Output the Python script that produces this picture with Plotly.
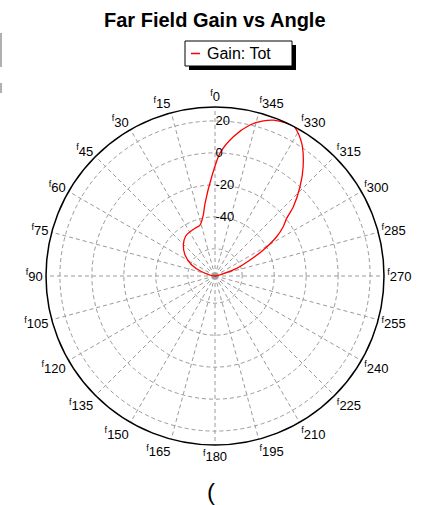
import plotly.graph_objects as go

# ---- data -------------------------------------------------------------
title_text = "Far Field Gain vs Angle"
series_name = "Gain: Tot"

# far-field total gain (dB) against angle (deg)
angles_deg = [1.9, 7.8, 10.9, 16.4, 24.5, 36.2, 45.6, 55.0, 64.7, 72.1,
              180.0,
              285.5, 289.5, 294.6, 298.3, 302.5, 305.8, 308.8, 311.5, 316.4,
              321.1, 326.8, 331.8, 335.1, 339.5, 342.7, 347.0, 352.5, 357.7, 1.9]
gain_db = [-14.9, -31.1, -38.2, -43.8, -44.8, -46.0, -49.3, -54.1, -60.9, -68.3,
           -77.0,
           -71.6, -62.6, -52.9, -42.7, -31.3, -24.4, -19.5, -11.6, 0.1,
           10.8, 22.1, 28.5, 28.5, 27.1, 24.6, 19.9, 10.8, -0.2, -14.9]

angle_ticks = list(range(0, 360, 15))
angle_labels = [f"<sup><span style='font-size:9px'>f</span></sup>{a}"
                for a in angle_ticks]
radial_ticks = [-60, -40, -20, 0, 20]
radial_labels = ["", "-40", "-20", "0", "20"]
radial_range = [-77.0, 28.7]

# ---- figure -----------------------------------------------------------
W, H = 425, 505
FONT = "Arial, Liberation Sans, sans-serif"


def px(x):
    return x / W


def py(y):
    return 1 - y / H


fig = go.Figure()
fig.add_trace(go.Scatterpolar(
    r=gain_db, theta=angles_deg, mode="lines", name=series_name,
    line=dict(color="#ff0000", width=1.3, shape="spline", smoothing=0.8),
    showlegend=False,
))

grid = dict(gridcolor="#9a9a9a", griddash="4px,3px", gridwidth=1)

fig.update_layout(
    width=W, height=H,
    margin=dict(l=0, r=0, t=0, b=0),
    paper_bgcolor="white",
    font=dict(family=FONT, color="black"),
    polar=dict(
        domain=dict(x=[px(46), px(384)], y=[py(445), py(107)]),
        bgcolor="white",
        angularaxis=dict(
            rotation=90, direction="counterclockwise",
            tickmode="array", tickvals=angle_ticks, ticktext=angle_labels,
            showline=True, linecolor="black", linewidth=1.5,
            ticks="", tickfont=dict(size=13, family=FONT, color="black"),
            **grid,
        ),
        radialaxis=dict(
            range=radial_range, angle=90, tickangle=90,
            tickmode="array", tickvals=radial_ticks, ticktext=radial_labels,
            showline=False, ticks="",
            tickfont=dict(size=13, family=FONT, color="black"),
            **grid,
        ),
    ),
)

# title
fig.add_annotation(
    text=f"<b>{title_text}</b>", xref="paper", yref="paper",
    x=px(215), y=py(20), xanchor="center", yanchor="middle",
    showarrow=False, font=dict(size=20, family=FONT, color="black"),
)

# legend box with drop shadow
shapes = [
    dict(type="rect", xref="paper", yref="paper",
         x0=px(189), x1=px(296), y0=py(70), y1=py(45),
         fillcolor="black", line=dict(width=0), layer="above"),
    dict(type="rect", xref="paper", yref="paper",
         x0=px(185), x1=px(292), y0=py(66), y1=py(41),
         fillcolor="white", line=dict(color="black", width=1), layer="above"),
    dict(type="line", xref="paper", yref="paper",
         x0=px(191), x1=px(200), y0=py(53.5), y1=py(53.5),
         line=dict(color="#ff0000", width=1.5), layer="above"),
    # thin grey edge marks at the left border
    dict(type="line", xref="paper", yref="paper",
         x0=px(1), x1=px(1), y0=py(33), y1=py(67),
         line=dict(color="#b0b0b0", width=2)),
    dict(type="line", xref="paper", yref="paper",
         x0=px(1), x1=px(1), y0=py(83), y1=py(93),
         line=dict(color="#b0b0b0", width=2)),
]
fig.update_layout(shapes=shapes)

fig.add_annotation(
    text=series_name, xref="paper", yref="paper",
    x=px(205), y=py(53.5), xanchor="left", yanchor="middle",
    showarrow=False, font=dict(size=16, family=FONT, color="black"),
)

fig.add_annotation(
    text="(", xref="paper", yref="paper",
    x=px(211), y=py(491), xanchor="center", yanchor="middle",
    showarrow=False, font=dict(size=24, family=FONT, color="black"),
)

fig.write_html("out.html")
